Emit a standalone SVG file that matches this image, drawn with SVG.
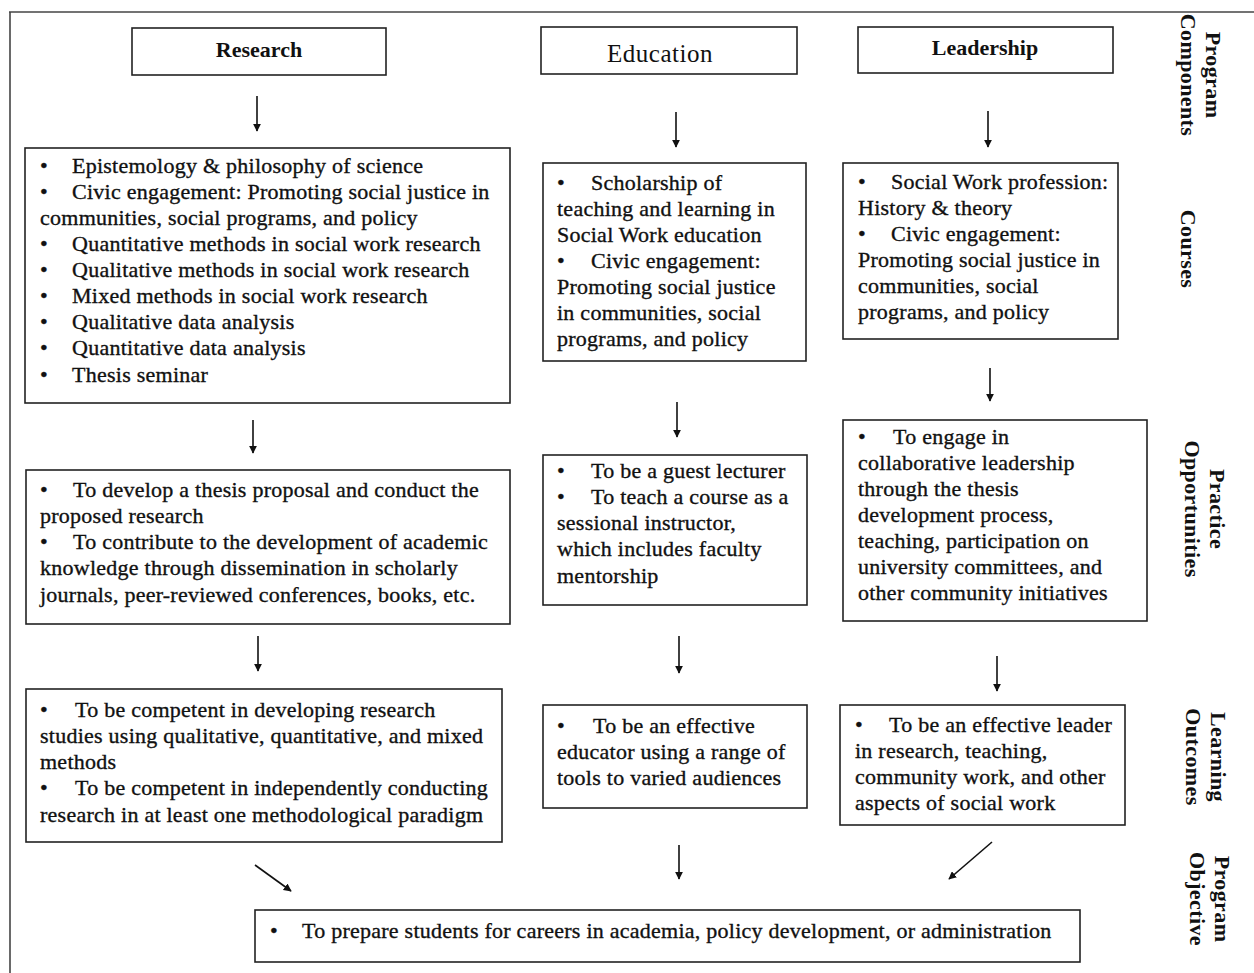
<svg xmlns="http://www.w3.org/2000/svg" width="1254" height="973" viewBox="0 0 1254 973">
<style>
.box{fill:#fff;stroke:#222;stroke-width:1.6}
.t{font-family:"Liberation Serif","Times New Roman",serif;font-size:22px;letter-spacing:0.25px;fill:#111;stroke:#111;stroke-width:0.35}
.hb{font-family:"Liberation Serif","Times New Roman",serif;font-size:22px;font-weight:bold;fill:#111}
.he{font-family:"Liberation Serif","Times New Roman",serif;font-size:25px;letter-spacing:0.5px;fill:#111}
.lab{font-family:"Liberation Serif","Times New Roman",serif;font-size:22px;font-weight:bold;letter-spacing:0.4px;fill:#111}
.c{stroke:#111;stroke-width:1.6;fill:none;marker-end:url(#ah)}
</style>
<defs>
<marker id="ah" viewBox="0 0 10 10" refX="9" refY="5" markerWidth="8" markerHeight="8" markerUnits="userSpaceOnUse" orient="auto">
<path d="M0,0 L10,5 L0,10 z" fill="#111"/>
</marker>
</defs>
<rect width="1254" height="973" fill="#fff"/>
<g id="frame" stroke="#444" stroke-width="1.6" fill="none">
<line x1="9" y1="12" x2="1254" y2="12"/>
<line x1="10" y1="12" x2="10" y2="973"/>
</g>

<g id="research">
<rect class="box" x="132" y="28" width="254" height="47"/>
<text class="hb" x="259" y="57" text-anchor="middle">Research</text>
</g>
<g id="education">
<rect class="box" x="541" y="27" width="256" height="47"/>
<text class="he" x="660" y="62" text-anchor="middle">Education</text>
</g>
<g id="leadership">
<rect class="box" x="858" y="27" width="255" height="46"/>
<text class="hb" x="985" y="55" text-anchor="middle">Leadership</text>
</g>

<g id="research-courses">
<rect class="box" x="25" y="148" width="485" height="255"/>
<text class="t">
<tspan x="40" y="173">•</tspan><tspan x="72" y="173">Epistemology &amp; philosophy of science</tspan>
<tspan x="40" y="199">•</tspan><tspan x="72" y="199">Civic engagement: Promoting social justice in</tspan>
<tspan x="40" y="225">communities, social programs, and policy</tspan>
<tspan x="40" y="251">•</tspan><tspan x="72" y="251">Quantitative methods in social work research</tspan>
<tspan x="40" y="277">•</tspan><tspan x="72" y="277">Qualitative methods in social work research</tspan>
<tspan x="40" y="303">•</tspan><tspan x="72" y="303">Mixed methods in social work research</tspan>
<tspan x="40" y="329">•</tspan><tspan x="72" y="329">Qualitative data analysis</tspan>
<tspan x="40" y="355">•</tspan><tspan x="72" y="355">Quantitative data analysis</tspan>
<tspan x="40" y="382">•</tspan><tspan x="72" y="382">Thesis seminar</tspan>
</text>
</g>

<g id="education-courses">
<rect class="box" x="543" y="163" width="263" height="198"/>
<text class="t">
<tspan x="557" y="190">•</tspan><tspan x="591" y="190">Scholarship of</tspan>
<tspan x="557" y="216">teaching and learning in</tspan>
<tspan x="557" y="242">Social Work education</tspan>
<tspan x="557" y="268">•</tspan><tspan x="591" y="268">Civic engagement:</tspan>
<tspan x="557" y="294">Promoting social justice</tspan>
<tspan x="557" y="320">in communities, social</tspan>
<tspan x="557" y="346">programs, and policy</tspan>
</text>
</g>

<g id="leadership-courses">
<rect class="box" x="843" y="163" width="275" height="176"/>
<text class="t">
<tspan x="858" y="189">•</tspan><tspan x="891" y="189">Social Work profession:</tspan>
<tspan x="858" y="215">History &amp; theory</tspan>
<tspan x="858" y="241">•</tspan><tspan x="891" y="241">Civic engagement:</tspan>
<tspan x="858" y="267">Promoting social justice in</tspan>
<tspan x="858" y="293">communities, social</tspan>
<tspan x="858" y="319">programs, and policy</tspan>
</text>
</g>

<g id="research-practice">
<rect class="box" x="26" y="470" width="484" height="154"/>
<text class="t">
<tspan x="40" y="497">•</tspan><tspan x="73" y="497">To develop a thesis proposal and conduct the</tspan>
<tspan x="40" y="523">proposed research</tspan>
<tspan x="40" y="549">•</tspan><tspan x="73" y="549">To contribute to the development of academic</tspan>
<tspan x="40" y="575">knowledge through dissemination in scholarly</tspan>
<tspan x="40" y="602">journals, peer-reviewed conferences, books, etc.</tspan>
</text>
</g>

<g id="education-practice">
<rect class="box" x="543" y="455" width="264" height="150"/>
<text class="t">
<tspan x="557" y="478">•</tspan><tspan x="591" y="478">To be a guest lecturer</tspan>
<tspan x="557" y="504">•</tspan><tspan x="591" y="504">To teach a course as a</tspan>
<tspan x="557" y="530">sessional instructor,</tspan>
<tspan x="557" y="556">which includes faculty</tspan>
<tspan x="557" y="583">mentorship</tspan>
</text>
</g>

<g id="leadership-practice">
<rect class="box" x="843" y="420" width="304" height="201"/>
<text class="t">
<tspan x="858" y="444">•</tspan><tspan x="893" y="444">To engage in</tspan>
<tspan x="858" y="470">collaborative leadership</tspan>
<tspan x="858" y="496">through the thesis</tspan>
<tspan x="858" y="522">development process,</tspan>
<tspan x="858" y="548">teaching, participation on</tspan>
<tspan x="858" y="574">university committees, and</tspan>
<tspan x="858" y="600">other community initiatives</tspan>
</text>
</g>

<g id="research-outcomes">
<rect class="box" x="26" y="689" width="476" height="153"/>
<text class="t">
<tspan x="40" y="717">•</tspan><tspan x="75" y="717">To be competent in developing research</tspan>
<tspan x="40" y="743">studies using qualitative, quantitative, and mixed</tspan>
<tspan x="40" y="769">methods</tspan>
<tspan x="40" y="795">•</tspan><tspan x="75" y="795">To be competent in independently conducting</tspan>
<tspan x="40" y="822">research in at least one methodological paradigm</tspan>
</text>
</g>

<g id="education-outcomes">
<rect class="box" x="543" y="705" width="264" height="103"/>
<text class="t">
<tspan x="557" y="733">•</tspan><tspan x="593" y="733">To be an effective</tspan>
<tspan x="557" y="759">educator using a range of</tspan>
<tspan x="557" y="785">tools to varied audiences</tspan>
</text>
</g>

<g id="leadership-outcomes">
<rect class="box" x="840" y="705" width="285" height="120"/>
<text class="t">
<tspan x="855" y="732">•</tspan><tspan x="889" y="732">To be an effective leader</tspan>
<tspan x="855" y="758">in research, teaching,</tspan>
<tspan x="855" y="784">community work, and other</tspan>
<tspan x="855" y="810">aspects of social work</tspan>
</text>
</g>

<g id="objective">
<rect class="box" x="255" y="910" width="825" height="52"/>
<text class="t">
<tspan x="270" y="938">•</tspan><tspan x="302" y="938">To prepare students for careers in academia, policy development, or administration</tspan>
</text>
</g>

<g id="row-labels">
<text class="lab" transform="translate(1206,75) rotate(90)" text-anchor="middle">Program</text>
<text class="lab" transform="translate(1181,75) rotate(90)" text-anchor="middle">Components</text>
<text class="lab" transform="translate(1181,249) rotate(90)" text-anchor="middle">Courses</text>
<text class="lab" transform="translate(1210,509) rotate(90)" text-anchor="middle">Practice</text>
<text class="lab" transform="translate(1185,509) rotate(90)" text-anchor="middle">Opportunities</text>
<text class="lab" transform="translate(1211,757) rotate(90)" text-anchor="middle">Learning</text>
<text class="lab" transform="translate(1186,757) rotate(90)" text-anchor="middle">Outcomes</text>
<text class="lab" transform="translate(1215,899) rotate(90)" text-anchor="middle">Program</text>
<text class="lab" transform="translate(1190,899) rotate(90)" text-anchor="middle">Objective</text>
</g>

<g id="connectors">
<line class="c" x1="257" y1="96" x2="257" y2="131"/>
<line class="c" x1="676" y1="112" x2="676" y2="147"/>
<line class="c" x1="988" y1="111" x2="988" y2="147"/>
<line class="c" x1="253" y1="420" x2="253" y2="453"/>
<line class="c" x1="677" y1="402" x2="677" y2="437"/>
<line class="c" x1="990" y1="368" x2="990" y2="401"/>
<line class="c" x1="258" y1="636" x2="258" y2="671"/>
<line class="c" x1="679" y1="636" x2="679" y2="673"/>
<line class="c" x1="997" y1="656" x2="997" y2="691"/>
<line class="c" x1="255" y1="865" x2="291" y2="891"/>
<line class="c" x1="679" y1="845" x2="679" y2="879"/>
<line class="c" x1="992" y1="842" x2="949" y2="879"/>
</g>
</svg>
